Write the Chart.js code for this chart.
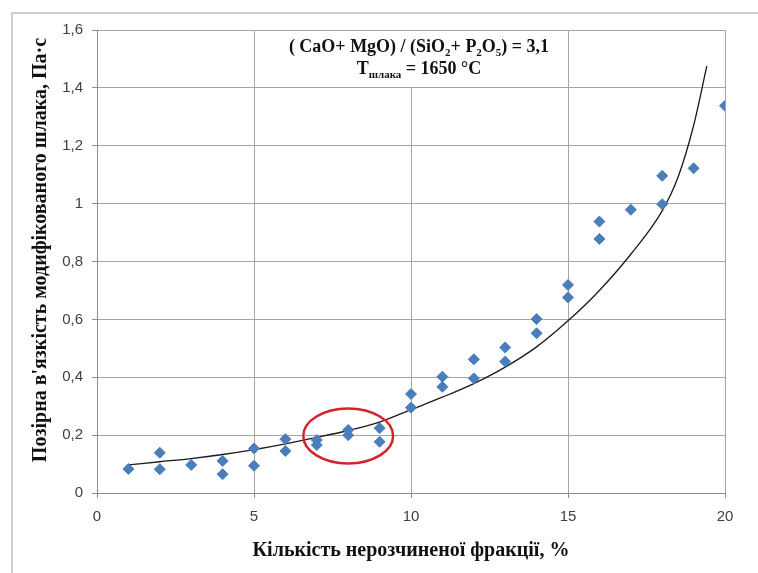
<!DOCTYPE html>
<html>
<head>
<meta charset="utf-8">
<script src="https://cdn.jsdelivr.net/npm/chart.js@4.4.0/dist/chart.umd.min.js"></script>
<style>
  html, body { margin: 0; padding: 0; background: #fff; }
  #wrap { width: 758px; height: 573px; position: relative; }
</style>
</head>
<body>
<div id="wrap"><canvas id="viscosity-chart" width="758" height="573"></canvas></div>
<script>
const pointX = [1, 2, 2, 3, 4, 4, 5, 5, 6, 6, 7, 7, 8, 8, 9, 9, 10, 10, 11, 11, 12, 12, 13, 13, 14, 14, 15, 15, 16, 16, 17, 18, 18, 19, 20];
const pointY = [0.083, 0.139, 0.082, 0.097, 0.111, 0.065, 0.154, 0.094, 0.186, 0.145, 0.183, 0.166, 0.218, 0.200, 0.224, 0.177,
                0.342, 0.295, 0.402, 0.367, 0.462, 0.396, 0.503, 0.454, 0.601, 0.552, 0.719, 0.676, 0.938, 0.878, 0.979,
                1.096, 0.998, 1.122, 1.338];

// trend line
const trendX = [1, 2, 3, 4, 5, 6, 7, 8, 9, 10, 11, 12, 13, 14, 15, 16, 17, 18, 18.5, 19, 19.42];
const trendY = [0.097, 0.108, 0.119, 0.133, 0.150, 0.170, 0.192, 0.216, 0.245, 0.288, 0.331, 0.378, 0.435, 0.505, 0.595, 0.70, 0.825, 0.975, 1.09, 1.27, 1.475];

const xTickLabels = ['0', '5', '10', '15', '20'];
const yTickLabels = ['0', '0,2', '0,4', '0,6', '0,8', '1', '1,2', '1,4', '1,6'];

const xTitle = 'Кількість нерозчиненої фракції, %';
const yTitle = 'Позірна в\'язкість модифікованого шлака, Па·с';

// highlighted group (red ellipse), in data units
const ringX = 8, ringY = 0.197, ringRX = 1.43, ringRY = 0.095;

const serif = '"Liberation Serif", "Times New Roman", serif';
const sans = '"Liberation Sans", Arial, sans-serif';

// draws a line of text made of runs; sub runs are smaller and lowered
function drawRuns(ctx, runs, cx, cy, size) {
    const widthOf = r => {
        ctx.font = 'bold ' + (r.sub ? Math.round(size * 0.62) : size) + 'px ' + serif;
        return ctx.measureText(r.t).width;
    };
    const total = runs.reduce((s, r) => s + widthOf(r), 0);
    let x = cx - total / 2;
    ctx.textBaseline = 'alphabetic';
    ctx.textAlign = 'left';
    runs.forEach(r => {
        const w = widthOf(r);
        ctx.fillText(r.t, x, cy + (r.sub ? size * 0.2 : 0));
        x += w;
    });
    return total;
}

const extras = {
    id: 'extras',
    beforeDraw(chart) {
        const ctx = chart.ctx;
        ctx.save();
        ctx.strokeStyle = '#cfcfcf';
        ctx.lineWidth = 2;
        ctx.beginPath();
        ctx.moveTo(12, chart.height);
        ctx.lineTo(12, 13);
        ctx.lineTo(chart.width, 13);
        ctx.stroke();
        ctx.restore();
    },
    beforeDatasetsDraw(chart) {
        const ctx = chart.ctx;
        const area = chart.chartArea;
        const y = chart.scales.y;
        const cx = (area.left + area.right) / 2 + 8;
        ctx.save();
        // white box under the note
        ctx.fillStyle = '#fff';
        ctx.fillRect(cx - 138, area.top + 1, 276, y.getPixelForValue(1.4) - area.top - 2);
        ctx.fillStyle = '#111';
        const size = 18;
        drawRuns(ctx, [
            { t: '( CaO+ MgO) / (SiO' }, { t: '2', sub: true }, { t: '+ P' }, { t: '2', sub: true },
            { t: 'O' }, { t: '5', sub: true }, { t: ') = 3,1' }
        ], cx, area.top + 22, size);
        drawRuns(ctx, [
            { t: 'T' }, { t: 'шлака', sub: true }, { t: ' = 1650 °C' }
        ], cx, area.top + 44, size);

        // vertical axis title
        ctx.translate(41, 250);
        ctx.rotate(-Math.PI / 2);
        ctx.font = 'bold 20px ' + serif;
        ctx.textAlign = 'center';
        ctx.textBaseline = 'middle';
        ctx.fillText(yTitle, 0, 0);
        ctx.restore();
    },
    afterDatasetsDraw(chart) {
        const ctx = chart.ctx;
        const xs = chart.scales.x, ys = chart.scales.y;
        const px = xs.getPixelForValue(ringX);
        const py = ys.getPixelForValue(ringY);
        const rx = Math.abs(xs.getPixelForValue(ringX + ringRX) - px);
        const ry = Math.abs(ys.getPixelForValue(ringY + ringRY) - py);
        ctx.save();
        ctx.strokeStyle = '#d2232a';
        ctx.lineWidth = 2.5;
        ctx.beginPath();
        ctx.ellipse(px, py, rx, ry, 0, 0, Math.PI * 2);
        ctx.stroke();
        ctx.restore();
    }
};

const ctx = document.getElementById('viscosity-chart').getContext('2d');
const myChart = new Chart(ctx, {
    type: 'scatter',
    data: {
        datasets: [
            {
                label: 'points',
                data: pointX.map((x, i) => ({ x: x, y: pointY[i] })),
                pointStyle: 'rectRot',
                pointRadius: 5.5,
                backgroundColor: '#4a7ebb',
                borderColor: '#4a7ebb',
                borderWidth: 1,
                showLine: false,
                order: 1,
            },
            {
                label: 'trend',
                data: trendX.map((x, i) => ({ x: x, y: trendY[i] })),
                showLine: true,
                pointRadius: 0,
                borderColor: '#1a1a1a',
                borderWidth: 1.3,
                cubicInterpolationMode: 'monotone',
                fill: false,
                order: 2,
            },
        ],
    },
    options: {
        responsive: false,
        animation: false,
        layout: {
            padding: { left: 30, top: 30, right: 33, bottom: 10 },
        },
        plugins: {
            legend: { display: false },
            tooltip: { enabled: false },
        },
        scales: {
            x: {
                type: 'linear',
                min: 0,
                max: 20,
                afterFit: scale => { scale.height = 70; },
                ticks: {
                    stepSize: 5,
                    padding: 10,
                    color: '#404040',
                    font: { family: sans, size: 15 },
                    callback: (v, i) => xTickLabels[i],
                },
                grid: { color: '#a6a6a6', tickLength: 5, tickColor: '#8c8c8c' },
                border: { color: '#8c8c8c' },
                title: {
                    display: true,
                    text: xTitle,
                    color: '#111',
                    font: { family: serif, size: 20, weight: 'bold' },
                    padding: 0,
                },
            },
            y: {
                min: 0,
                max: 1.6,
                afterFit: scale => { scale.width = 67; },
                ticks: {
                    stepSize: 0.2,
                    padding: 9,
                    color: '#404040',
                    font: { family: sans, size: 15 },
                    callback: (v, i) => yTickLabels[i],
                },
                grid: { color: '#a6a6a6', tickLength: 5, tickColor: '#8c8c8c' },
                border: { color: '#8c8c8c' },
            },
        },
    },
    plugins: [extras],
});
</script>
</body>
</html>
